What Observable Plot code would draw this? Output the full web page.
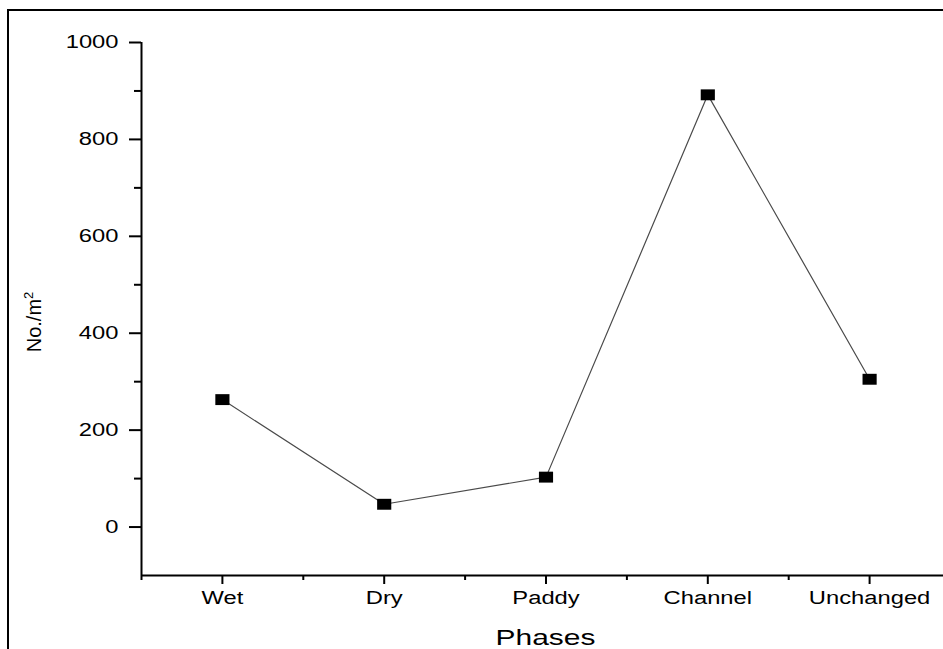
<!DOCTYPE html>
<html>
<head>
<meta charset="utf-8">
<script src="https://cdn.jsdelivr.net/npm/d3@7"></script>
<script src="https://cdn.jsdelivr.net/npm/@observablehq/plot@0.6"></script>
<style>
  html, body { margin: 0; padding: 0; background: #fff; overflow: hidden; }
  #wrap { position: relative; width: 943px; height: 649px; overflow: hidden; }
  #frame { position: absolute; left: 7px; top: 9px; width: 2000px; height: 2000px;
           border-top: 2px solid #000; border-left: 2px solid #000; pointer-events: none; }
  #chart { position: absolute; left: 0; top: 0; }
</style>
</head>
<body>
<div id="wrap"><div id="chart"></div><div id="frame"></div></div>
<script>
const phases = ["Wet", "Dry", "Paddy", "Channel", "Unchanged"];
const counts = [263, 47, 103, 892, 305];
const yMajorTicks = [0, 200, 400, 600, 800, 1000];
const yMinorTicks = [100, 300, 500, 700, 900];
const xLabel = "Phases";
const yLabel = "No./m²";

const data = phases.map((p, i) => ({pos: i + 1, phase: p, value: counts[i]}));
const xMajor = phases.map((p, i) => i + 1);
const xMinor = [0.5, 1.5, 2.5, 3.5, 4.5];

const font = "'Liberation Sans', Arial, sans-serif";

// slightly wide square marker, as in the reference
const wideSquare = {
  draw(context, size) {
    const s = Math.sqrt(size);
    const w = s * 0.57, h = s * 0.44;
    context.moveTo(-w, -h);
    context.lineTo(w, -h);
    context.lineTo(w, h);
    context.lineTo(-w, h);
    context.closePath();
  }
};

const chart = Plot.plot({
  width: 943,
  height: 649,
  marginLeft: 141,
  marginRight: 0,
  marginTop: 42,
  marginBottom: 74,
  style: {fontFamily: font, color: "#000", background: "transparent"},
  x: {domain: [0.5, 5.5], range: [141, 950]},
  y: {domain: [-100, 1000]},
  marks: [
    Plot.axisY(yMajorTicks, {tickSize: 12, tickPadding: 11, fontSize: 18, strokeWidth: 2, label: null,
      tickFormat: d => String(d), className: "stretch"}),
    Plot.axisY(yMinorTicks, {tickSize: 7, strokeWidth: 2, text: null, label: null}),
    Plot.axisX(xMajor, {tickSize: 9, tickPadding: 7, fontSize: 18, strokeWidth: 2, label: null,
      tickFormat: d => phases[d - 1], className: "stretch"}),
    Plot.axisX(xMinor, {tickSize: 5, strokeWidth: 2, text: null, label: null}),
    Plot.ruleX([0.5], {y1: -100, y2: 1000, strokeWidth: 2}),
    Plot.ruleY([-100], {strokeWidth: 2}),
    Plot.line(data, {x: "pos", y: "value", stroke: "#4a4a4a", strokeWidth: 1.2}),
    Plot.dot(data, {x: "pos", y: "value", symbol: wideSquare, r: 7, fill: "#000", stroke: "none"}),
    Plot.text([xLabel], {frameAnchor: "bottom", textAnchor: "middle", lineAnchor: "middle",
      dx: 3, dy: 62, fontSize: 22, text: d => d, className: "stretch2"}),
    Plot.text([yLabel], {frameAnchor: "left", textAnchor: "middle", lineAnchor: "middle",
      rotate: -90, dx: -107, dy: 13, fontSize: 20, text: d => d, className: "ylabel"})
  ]
});

// the reference's horizontal texts are drawn horizontally widened
function stretch(sel, k) {
  d3.select(chart).selectAll(sel).each(function () {
    const t = d3.select(this);
    const x = +(t.attr("x") || 0);
    const tr = t.attr("transform") || "";
    t.attr("transform", `${tr} translate(${x},0) scale(${k},1) translate(${-x},0)`);
  });
}
stretch("g.stretch text", 1.32);
stretch("g.stretch2 text", 1.36);

// render the squared unit with a real superscript
d3.select(chart).selectAll("g.ylabel text").each(function () {
  const t = d3.select(this);
  const s = t.text();
  const i = s.indexOf("²");
  if (i < 0) return;
  t.text(null);
  t.append("tspan").text(s.slice(0, i));
  t.append("tspan").attr("dy", "-0.6em").attr("font-size", "13px").text("2");
});

document.getElementById("chart").appendChild(chart);
</script>
</body>
</html>
